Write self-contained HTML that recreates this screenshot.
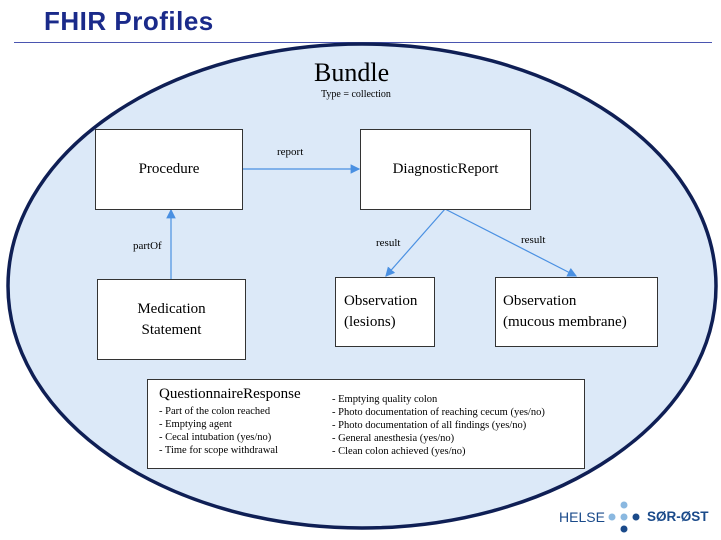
<html><head><style>
body{margin:0;width:721px;height:540px;background:#fff;position:relative;overflow:hidden;font-family:"Liberation Serif",serif}
.t{position:absolute;white-space:nowrap}
.box{position:absolute;background:#fff;border:1px solid #333;box-sizing:border-box;display:flex;align-items:center;justify-content:center;text-align:center;font-size:15px;line-height:21px}
</style></head><body>
<div class="t" style="left:44px;top:6px;font:bold 26px 'Liberation Sans',sans-serif;color:#1a2a8a;letter-spacing:0.5px">FHIR Profiles</div>
<div style="position:absolute;left:14px;top:42px;width:698px;height:1px;background:#4a55b0"></div>
<svg style="position:absolute;left:0;top:0" width="721" height="540">
<defs><marker id="a" markerWidth="8" markerHeight="8" refX="7" refY="4" orient="auto"><path d="M0,0L8,4L0,8z" fill="#4a90e2"/></marker></defs>
<ellipse cx="362" cy="286" rx="354" ry="242" fill="#dce9f8" stroke="#0f1f55" stroke-width="3.5"/>
<g stroke="#4a90e2" stroke-width="1.2" fill="none">
<line x1="242" y1="169" x2="359" y2="169" marker-end="url(#a)"/>
<line x1="171" y1="279" x2="171" y2="210" marker-end="url(#a)"/>
<line x1="445" y1="209" x2="386" y2="276" marker-end="url(#a)"/>
<line x1="445" y1="209" x2="576" y2="276" marker-end="url(#a)"/>
</g>
<g><circle cx="624" cy="505" r="3.5" fill="#8ab8e0"/><circle cx="612" cy="517" r="3.5" fill="#8ab8e0"/><circle cx="624" cy="517" r="3.5" fill="#8ab8e0"/><circle cx="636" cy="517" r="3.5" fill="#1a4a8a"/><circle cx="624" cy="529" r="3.5" fill="#1a4a8a"/></g>
</svg>
<div class="t" style="left:314px;top:58px;font-size:26px">Bundle</div>
<div class="t" style="left:321px;top:89px;font-size:10px">Type = collection</div>
<div class="t" style="left:277px;top:146px;font-size:11px">report</div>
<div class="t" style="left:133px;top:240px;font-size:11px">partOf</div>
<div class="t" style="left:376px;top:237px;font-size:11px">result</div>
<div class="t" style="left:521px;top:234px;font-size:11px">result</div>
<div class="box" style="left:95px;top:129px;width:148px;height:81px">Procedure</div>
<div class="box" style="left:360px;top:129px;width:171px;height:81px">DiagnosticReport</div>
<div class="box" style="left:97px;top:279px;width:149px;height:81px">Medication<br>Statement</div>
<div class="box" style="left:335px;top:277px;width:100px;height:70px;justify-content:flex-start;text-align:left;padding-left:8px">Observation<br>(lesions)</div>
<div class="box" style="left:495px;top:277px;width:163px;height:70px;justify-content:flex-start;text-align:left;padding-left:7px">Observation<br>(mucous membrane)</div>
<div class="box" style="left:147px;top:379px;width:438px;height:90px;display:block;text-align:left"></div>
<div class="t" style="left:159px;top:386px;font-size:15px">QuestionnaireResponse</div>
<div class="t" style="left:159px;top:405px;font-size:10.5px;line-height:13px">- Part of the colon reached<br>- Emptying agent<br>- Cecal intubation (yes/no)<br>- Time for scope withdrawal</div>
<div class="t" style="left:332px;top:393px;font-size:10.5px;line-height:13px">- Emptying quality colon<br>- Photo documentation of reaching cecum (yes/no)<br>- Photo documentation of all findings (yes/no)<br>- General anesthesia (yes/no)<br>- Clean colon achieved (yes/no)</div>
<div class="t" style="left:559px;top:509px;font:14px 'Liberation Sans',sans-serif;color:#1a4a8a">HELSE</div>
<div class="t" style="left:647px;top:509px;font:bold 13.5px 'Liberation Sans',sans-serif;color:#1a4a8a">SØR-ØST</div>
</body></html>
